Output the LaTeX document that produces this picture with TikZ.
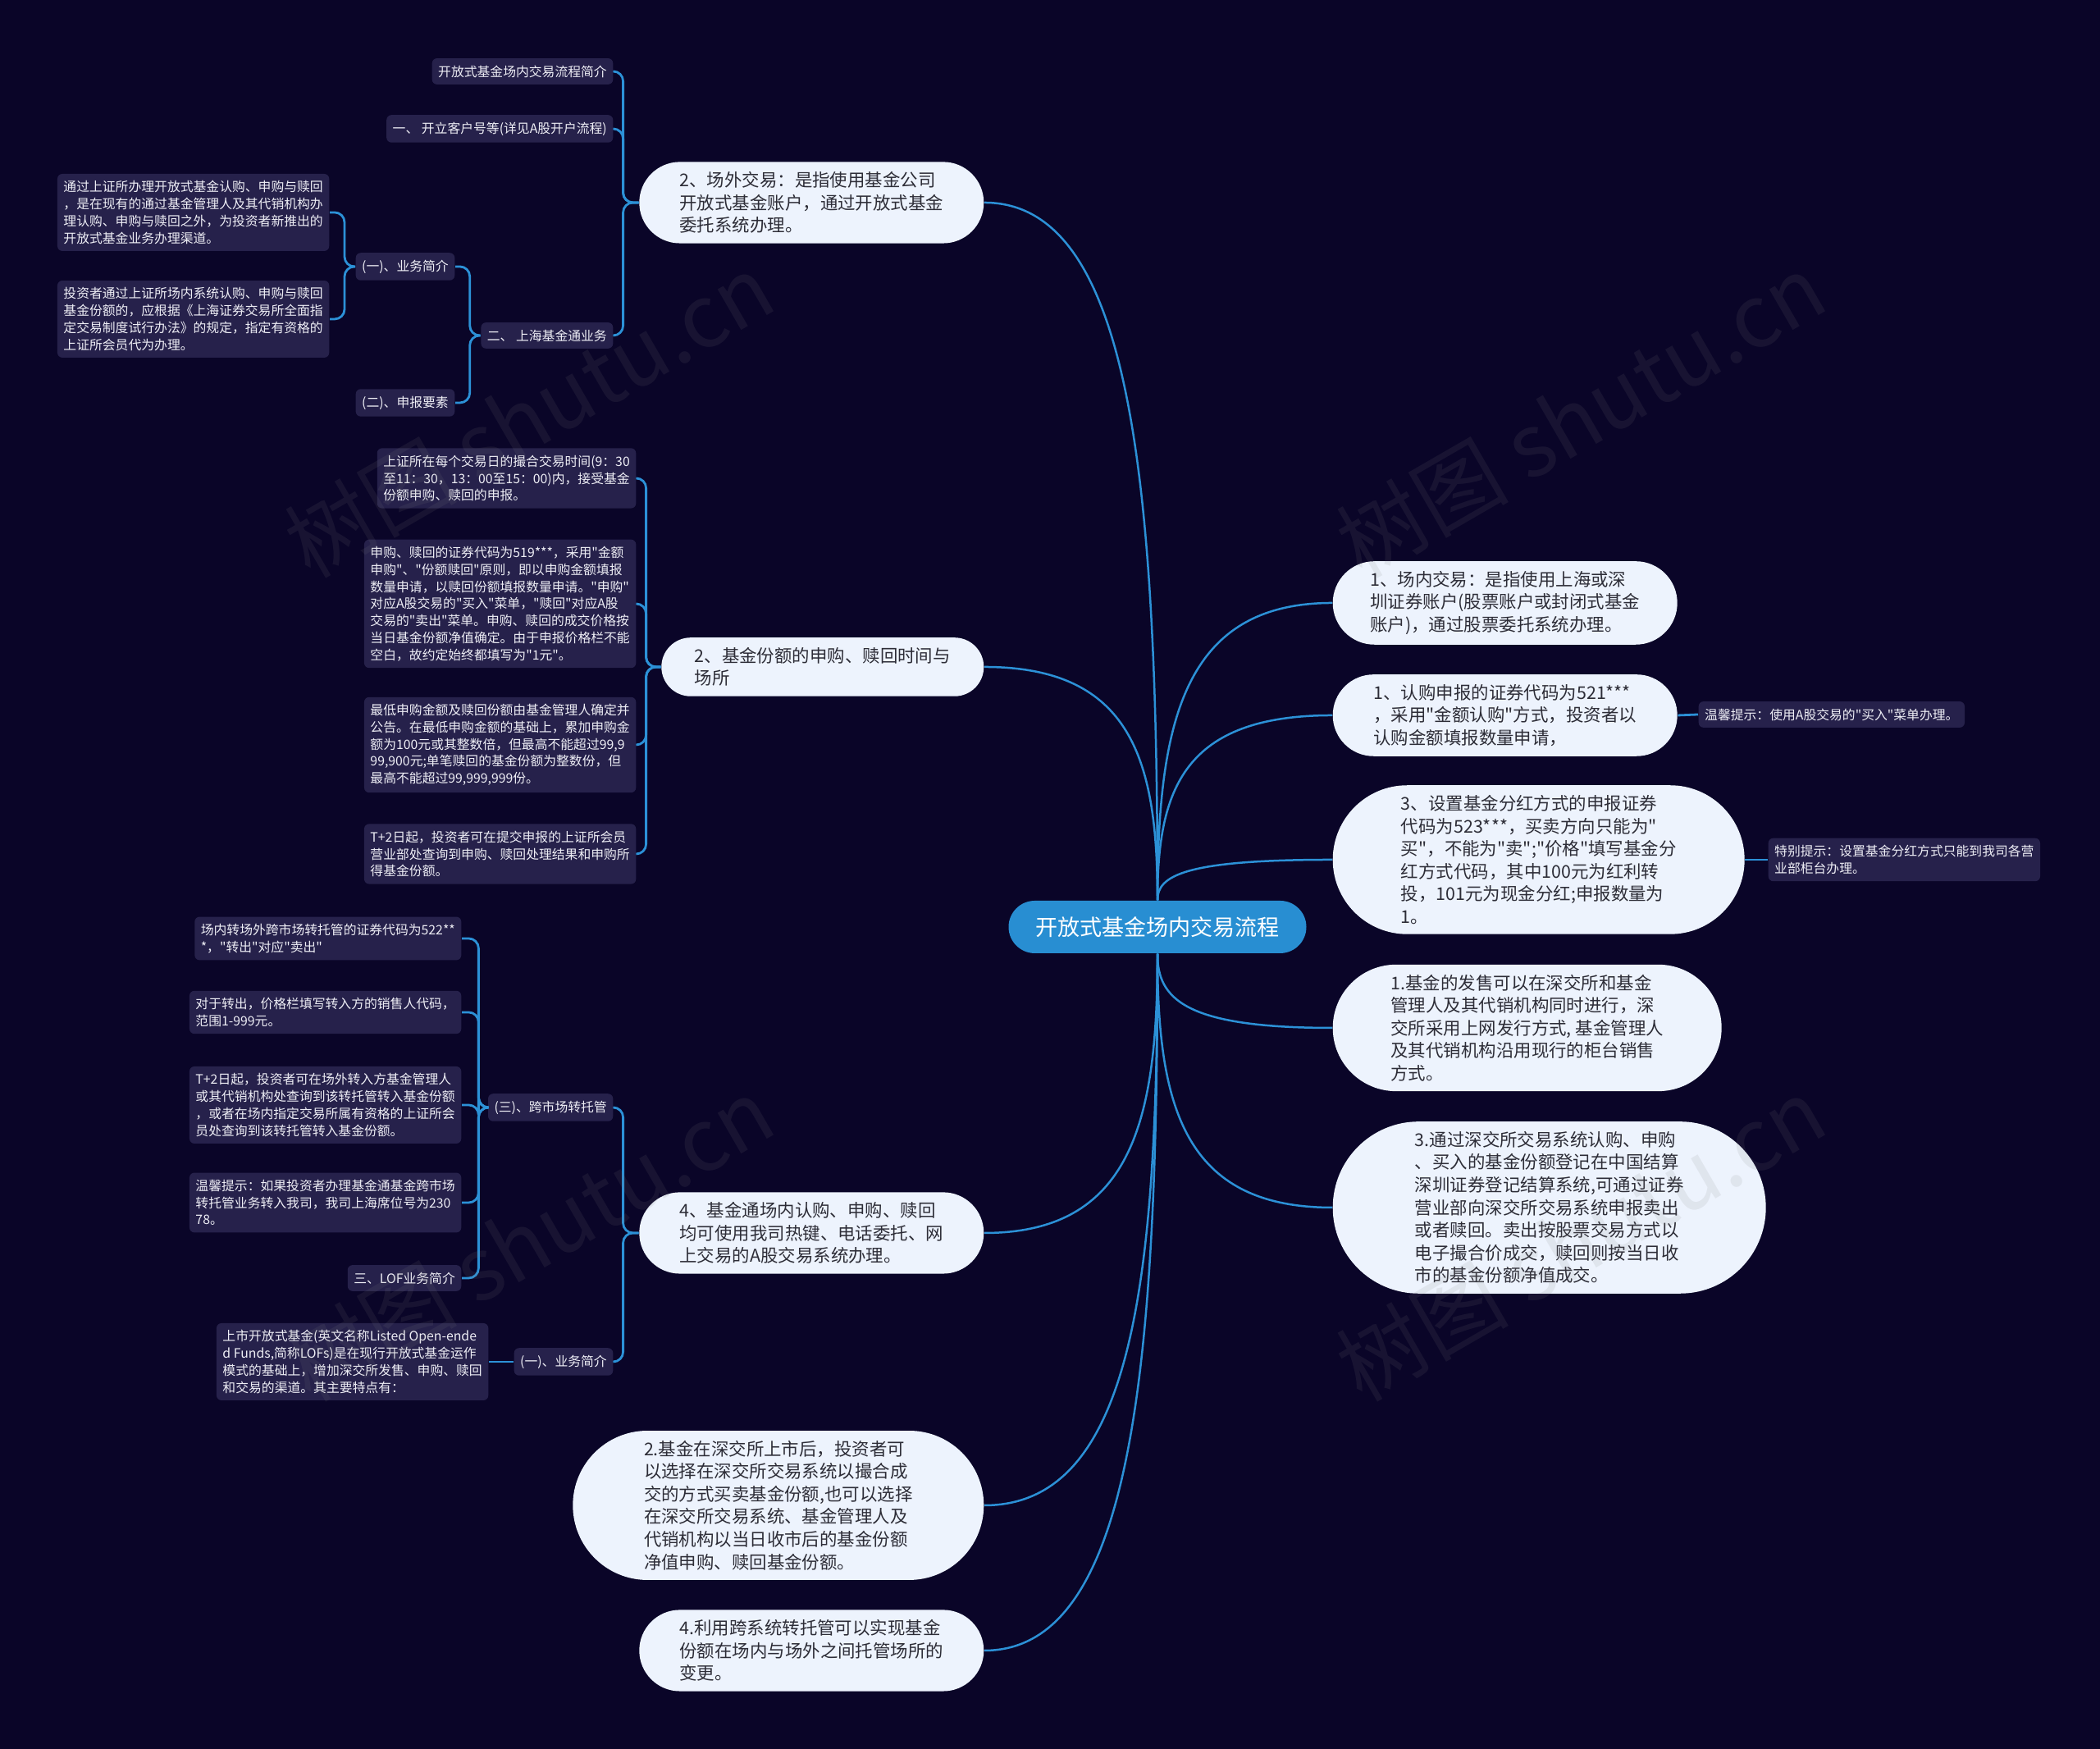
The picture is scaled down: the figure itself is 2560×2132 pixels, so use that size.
\documentclass[tikz,border=0pt]{standalone}
\usepackage{fontspec}
\newfontfamily\cjkfont{Noto Sans CJK SC}
\usetikzlibrary{calc,shapes.misc}

\definecolor{bgnavy}{RGB}{10,5,40}
\definecolor{rootblue}{RGB}{40,142,210}
\definecolor{linkblue}{RGB}{44,145,215}
\definecolor{pillfill}{RGB}{237,243,253}
\definecolor{pilltext}{RGB}{45,45,55}
\definecolor{leafbg}{RGB}{38,33,75}
\definecolor{leaftext}{RGB}{238,238,245}

\begin{document}
\begin{tikzpicture}[
  x=0.1mm, y=0.1mm,
  root/.style={rounded rectangle, fill=rootblue, text=white, inner xsep=0pt, minimum height=6.4mm, minimum width=36.3mm, font=\cjkfont\fontsize{7.7}{9}\selectfont},
  pill/.style={rounded rectangle, fill=pillfill, text=pilltext, align=left, inner xsep=0pt, inner ysep=1.2mm, minimum width=#1, font=\cjkfont\fontsize{6.1}{7.85}\selectfont},
  pill/.default=42mm,
  leaf/.style={rectangle, rounded corners=0.6mm, fill=leafbg, text=leaftext, align=left, inner xsep=0.75mm, inner ysep=0.85mm, font=\cjkfont\fontsize{4.5}{5.9}\selectfont},
  branch/.style={draw=linkblue, line width=0.25mm,
    to path={.. controls ($(\tikztostart)!0.6!(\tikztostart |- \tikztotarget)$) and ($(\tikztotarget)!0.85!(\tikztotarget -| \tikztostart)$) .. (\tikztotarget)}},
  bracket/.style={draw=linkblue, line width=0.28mm, rounded corners=1.2mm},
  wmark/.style={text=gray, opacity=0.12, rotate=30, font=\cjkfont\fontsize{30}{30}\selectfont}
]

\fill[bgnavy] (0,0) rectangle (2560,2132);

% centre
\node[root] (root) at (1411,1002) {开放式基金场内交易流程};

% left branches
\node[pill, anchor=east] (l1) at (1200,1885) {2、场外交易：是指使用基金公司\\开放式基金账户，通过开放式基金\\委托系统办理。};
\node[pill=39.3mm, anchor=east] (l2) at (1200,1319) {2、基金份额的申购、赎回时间与\\场所};
\node[pill, anchor=east] (l3) at (1200,629) {4、基金通场内认购、申购、赎回\\均可使用我司热键、电话委托、网\\上交易的A股交易系统办理。};
\node[pill=50.1mm, anchor=east] (l4) at (1200,297) {2.基金在深交所上市后，投资者可\\以选择在深交所交易系统以撮合成\\交的方式买卖基金份额,也可以选择\\在深交所交易系统、基金管理人及\\代销机构以当日收市后的基金份额\\净值申购、赎回基金份额。};
\node[pill, anchor=east] (l5) at (1200,120) {4.利用跨系统转托管可以实现基金\\份额在场内与场外之间托管场所的\\变更。};

% right branches
\node[pill, anchor=west] (r1) at (1624,1397) {1、场内交易：是指使用上海或深\\圳证券账户(股票账户或封闭式基金\\账户)，通过股票委托系统办理。};
\node[pill, anchor=west] (r2) at (1624,1260) {1、认购申报的证券代码为521***\\，采用"金额认购"方式，投资者以\\认购金额填报数量申请，};
\node[pill=50.2mm, anchor=west] (r3) at (1624,1084) {3、设置基金分红方式的申报证券\\代码为523***，买卖方向只能为"\\买"，不能为"卖";"价格"填写基金分\\红方式代码，其中100元为红利转\\投，101元为现金分红;申报数量为\\1。};
\node[pill=47.4mm, anchor=west] (r4) at (1624,879) {1.基金的发售可以在深交所和基金\\管理人及其代销机构同时进行，深\\交所采用上网发行方式, 基金管理人\\及其代销机构沿用现行的柜台销售\\方式。};
\node[pill=52.8mm, anchor=west] (r5) at (1624,660) {3.通过深交所交易系统认购、申购\\、买入的基金份额登记在中国结算\\深圳证券登记结算系统,可通过证券\\营业部向深交所交易系统申报卖出\\或者赎回。卖出按股票交易方式以\\电子撮合价成交，赎回则按当日收\\市的基金份额净值成交。};

\node[leaf, anchor=west] (tip2) at (2070,1261) {温馨提示：使用A股交易的"买入"菜单办理。};
\node[leaf, anchor=west] (tip3) at (2155,1084) {特别提示：设置基金分红方式只能到我司各营\\业部柜台办理。};

% under l1
\node[leaf, anchor=east] (a1) at (748,2045) {开放式基金场内交易流程简介};
\node[leaf, anchor=east] (a2) at (748,1975) {一、 开立客户号等(详见A股开户流程)};
\node[leaf, anchor=east] (a3) at (748,1723) {二、 上海基金通业务};
\node[leaf, anchor=east] (b1) at (555,1807) {(一)、业务简介};
\node[leaf, anchor=east] (b2) at (555,1641) {(二)、申报要素};
\node[leaf, anchor=east] (c1) at (402,1873) {通过上证所办理开放式基金认购、申购与赎回\\，是在现有的通过基金管理人及其代销机构办\\理认购、申购与赎回之外，为投资者新推出的\\开放式基金业务办理渠道。};
\node[leaf, anchor=east] (c2) at (402,1743) {投资者通过上证所场内系统认购、申购与赎回\\基金份额的，应根据《上海证券交易所全面指\\定交易制度试行办法》的规定，指定有资格的\\上证所会员代为办理。};

% under l2
\node[leaf, anchor=east] (d1) at (776,1549) {上证所在每个交易日的撮合交易时间(9：30\\至11：30，13：00至15：00)内，接受基金\\份额申购、赎回的申报。};
\node[leaf, anchor=east] (d2) at (776,1396) {申购、赎回的证券代码为519***，采用"金额\\申购"、"份额赎回"原则，即以申购金额填报\\数量申请，以赎回份额填报数量申请。"申购"\\对应A股交易的"买入"菜单，"赎回"对应A股\\交易的"卖出"菜单。申购、赎回的成交价格按\\当日基金份额净值确定。由于申报价格栏不能\\空白，故约定始终都填写为"1元"。};
\node[leaf, anchor=east] (d3) at (776,1224) {最低申购金额及赎回份额由基金管理人确定并\\公告。在最低申购金额的基础上，累加申购金\\额为100元或其整数倍，但最高不能超过99,9\\99,900元;单笔赎回的基金份额为整数份，但\\最高不能超过99,999,999份。};
\node[leaf, anchor=east] (d4) at (776,1091) {T+2日起，投资者可在提交申报的上证所会员\\营业部处查询到申购、赎回处理结果和申购所\\得基金份额。};

% under l3
\node[leaf, anchor=east] (e1) at (748,782) {(三)、跨市场转托管};
\node[leaf, anchor=east] (e2) at (748,472) {(一)、业务简介};
\node[leaf, anchor=east] (f1) at (563,988) {场内转场外跨市场转托管的证券代码为522**\\*，"转出"对应"卖出"};
\node[leaf, anchor=east] (f2) at (563,898) {对于转出，价格栏填写转入方的销售人代码，\\范围1-999元。};
\node[leaf, anchor=east] (f3) at (563,785) {T+2日起，投资者可在场外转入方基金管理人\\或其代销机构处查询到该转托管转入基金份额\\，或者在场内指定交易所属有资格的上证所会\\员处查询到该转托管转入基金份额。};
\node[leaf, anchor=east] (f4) at (563,666) {温馨提示：如果投资者办理基金通基金跨市场\\转托管业务转入我司，我司上海席位号为230\\78。};
\node[leaf, anchor=east] (f5) at (563,574) {三、LOF业务简介};
\node[leaf, anchor=east] (g1) at (596,472) {上市开放式基金(英文名称Listed Open-ende\\d Funds,简称LOFs)是在现行开放式基金运作\\模式的基础上，增加深交所发售、申购、赎回\\和交易的渠道。其主要特点有：};

% connectors from the centre
\foreach \n in {l1,l2} \draw[branch] (root.north) to (\n.east);
\foreach \n in {l3,l4,l5} \draw[branch] (root.south) to (\n.east);
\foreach \n in {r1,r2,r3} \draw[branch] (root.north) to (\n.west);
\foreach \n in {r4,r5} \draw[branch] (root.south) to (\n.west);

% brackets
\foreach \c in {a1,a2,a3} \draw[bracket] (l1.west) -- ++(-19,0) |- (\c.east);
\foreach \c in {b1,b2} \draw[bracket] (a3.west) -- ++(-13,0) |- (\c.east);
\foreach \c in {c1,c2} \draw[bracket] (b1.west) -- ++(-13,0) |- (\c.east);
\foreach \c in {d1,d2,d3,d4} \draw[bracket] (l2.west) -- ++(-18,0) |- (\c.east);
\foreach \c in {e1,e2} \draw[bracket] (l3.west) -- ++(-19,0) |- (\c.east);
\foreach \c in {f1,f2,f3,f4,f5} \draw[bracket] (e1.west) -- ++(-11,0) |- (\c.east);
\draw[bracket] (e2.west) -- (g1.east);
\draw[bracket] (r2.east) -- (tip2.west);
\draw[bracket] (r3.east) -- (tip3.west);

% watermark
\node[wmark] (w1) at (645,1626) {树图 shutu.cn};
\node[wmark] (w2) at (1927,1626) {树图 shutu.cn};
\node[wmark] (w3) at (645,622) {树图 shutu.cn};
\node[wmark] (w4) at (1927,622) {树图 shutu.cn};

\end{tikzpicture}
\end{document}
